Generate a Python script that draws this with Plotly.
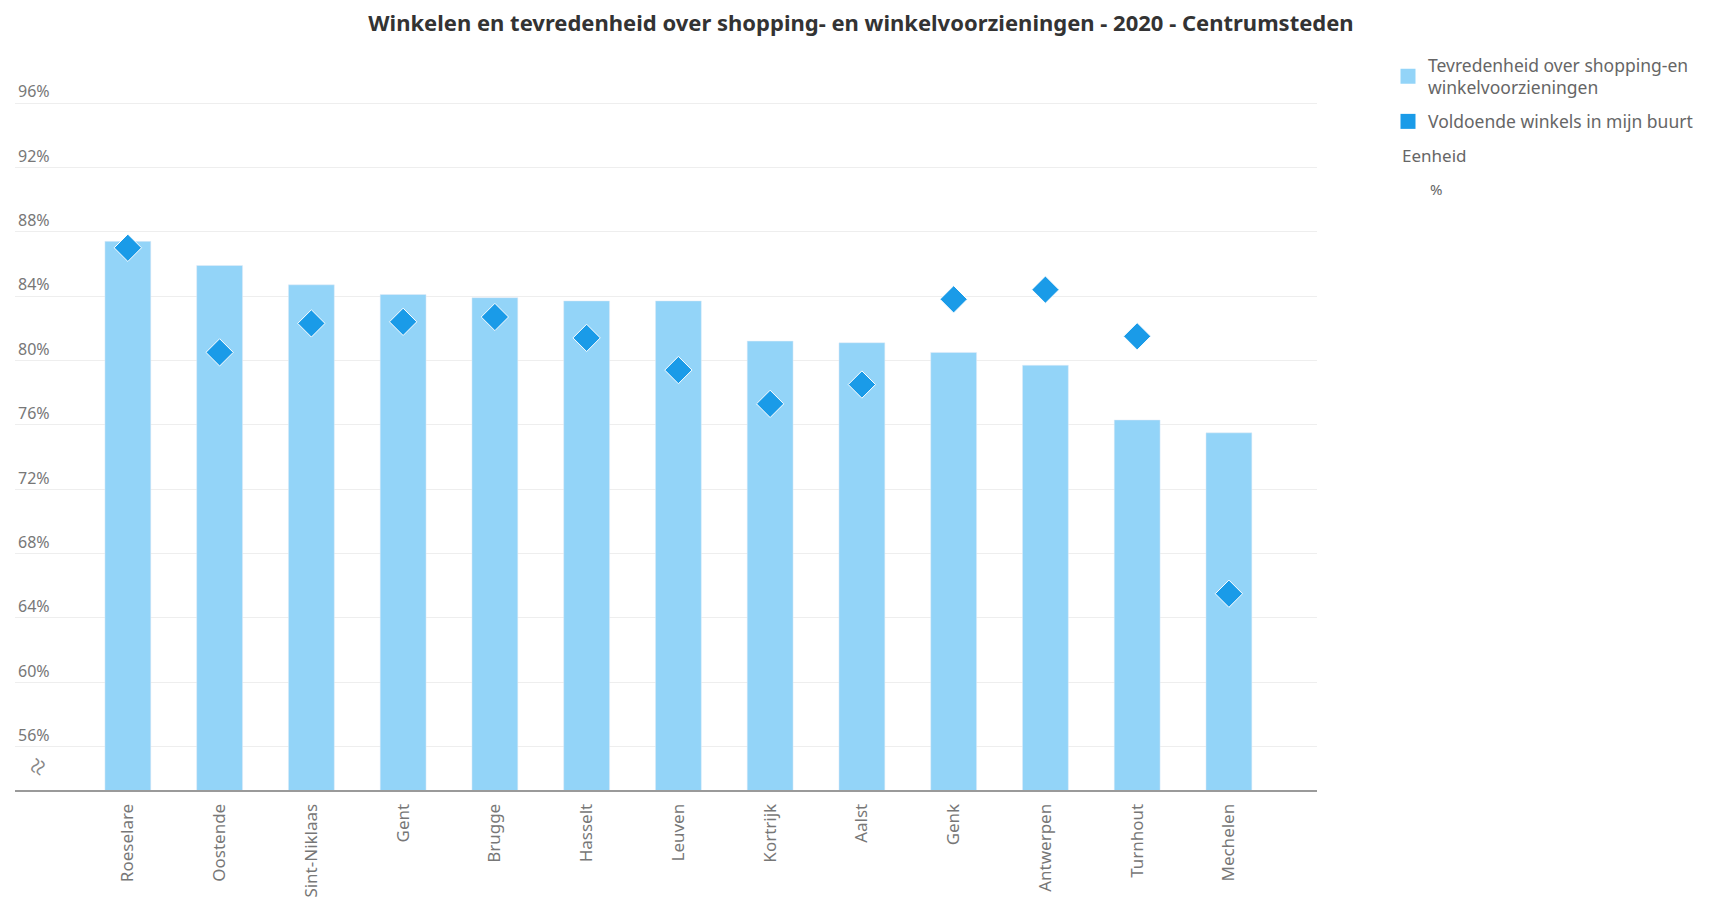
import plotly.graph_objects as go

cities = ["Roeselare", "Oostende", "Sint-Niklaas", "Gent", "Brugge", "Hasselt", "Leuven",
          "Kortrijk", "Aalst", "Genk", "Antwerpen", "Turnhout", "Mechelen"]
tevredenheid = [87.4, 85.9, 84.7, 84.1, 83.9, 83.7, 83.7, 81.2, 81.1, 80.5, 79.7, 76.3, 75.5]
voldoende = [87.0, 80.5, 82.3, 82.4, 82.7, 81.4, 79.4, 77.3, 78.5, 83.8, 84.4, 81.5, 65.5]

name_bar = "Tevredenheid over shopping-en<br>winkelvoorzieningen"
name_pts = "Voldoende winkels in mijn buurt"
title = "Winkelen en tevredenheid over shopping- en winkelvoorzieningen - 2020 - Centrumsteden"

LIGHT = "#93d4f8"
DARK = "#1a9be8"
FONT = "Noto Sans"

fig = go.Figure()
fig.add_trace(go.Bar(x=cities, y=tevredenheid, name=name_bar, marker_color=LIGHT,
                     width=0.5, showlegend=False))
fig.add_trace(go.Scatter(x=cities, y=voldoende, name=name_pts, mode="markers",
                         marker=dict(symbol="diamond", size=21, color=DARK,
                                     line=dict(color="white", width=1)),
                         showlegend=False))
# legend swatches (squares)
fig.add_trace(go.Scatter(x=[None], y=[None], name=name_bar, mode="markers",
                         marker=dict(symbol="square", size=15, color=LIGHT),
                         legendgroup="a", legendrank=1))
fig.add_trace(go.Scatter(x=[None], y=[None], name=name_pts, mode="markers",
                         marker=dict(symbol="square", size=15, color=DARK),
                         legendgroup="b", legendrank=2))

# plot area on page: x 15..1317, y 80..790 (page body has 8px margin)
def px(x):
    return (x - 15) / 1302

def py(y):
    return (790 - y) / 710

fig.update_layout(
    width=1713, height=903,
    margin=dict(l=7, r=404, t=72, b=121),
    paper_bgcolor="white", plot_bgcolor="white",
    barmode="overlay",
    font=dict(family=FONT, color="#666"),
    title=dict(text="<b>" + title + "</b>", x=853 / 1713, xanchor="center", y=1 - 15 / 903,
               yanchor="middle", font=dict(family=FONT, size=22, color="#333")),
    legend=dict(x=px(1388), xanchor="left", y=py(47), yanchor="top",
                xref="paper", yref="paper", font=dict(size=17.5, color="#666"),
                itemwidth=30, tracegroupgap=8, traceorder="grouped"),
    showlegend=True,
)
fig.update_xaxes(range=[-1.23, 12.96], tickangle=-90, showgrid=False,
                 showline=True, linecolor="#9a9a9a", linewidth=2,
                 tickfont=dict(size=17, color="#777"), ticks="", ticklabelstandoff=5)
fig.update_yaxes(range=[53.3, 97.43], tick0=56, dtick=4, ticksuffix="%",
                 showgrid=True, gridcolor="#eeeeee", gridwidth=1, zeroline=False,
                 ticklabelposition="inside top", tickfont=dict(size=16, color="#777"),
                 showline=False, ticks="")

fig.add_annotation(text="Eenheid", x=px(1400), y=py(155), xref="paper", yref="paper",
                   xanchor="left", yanchor="middle", showarrow=False,
                   font=dict(size=17, color="#666"))
fig.add_annotation(text="%", x=px(1428), y=py(189), xref="paper", yref="paper",
                   xanchor="left", yanchor="middle", showarrow=False,
                   font=dict(size=15, color="#666"))
fig.add_annotation(text="≈", x=px(36), y=py(766), xref="paper", yref="paper",
                   xanchor="center", yanchor="middle", showarrow=False, textangle=-65,
                   font=dict(size=30, color="#888"))

fig.write_html("out.html")
